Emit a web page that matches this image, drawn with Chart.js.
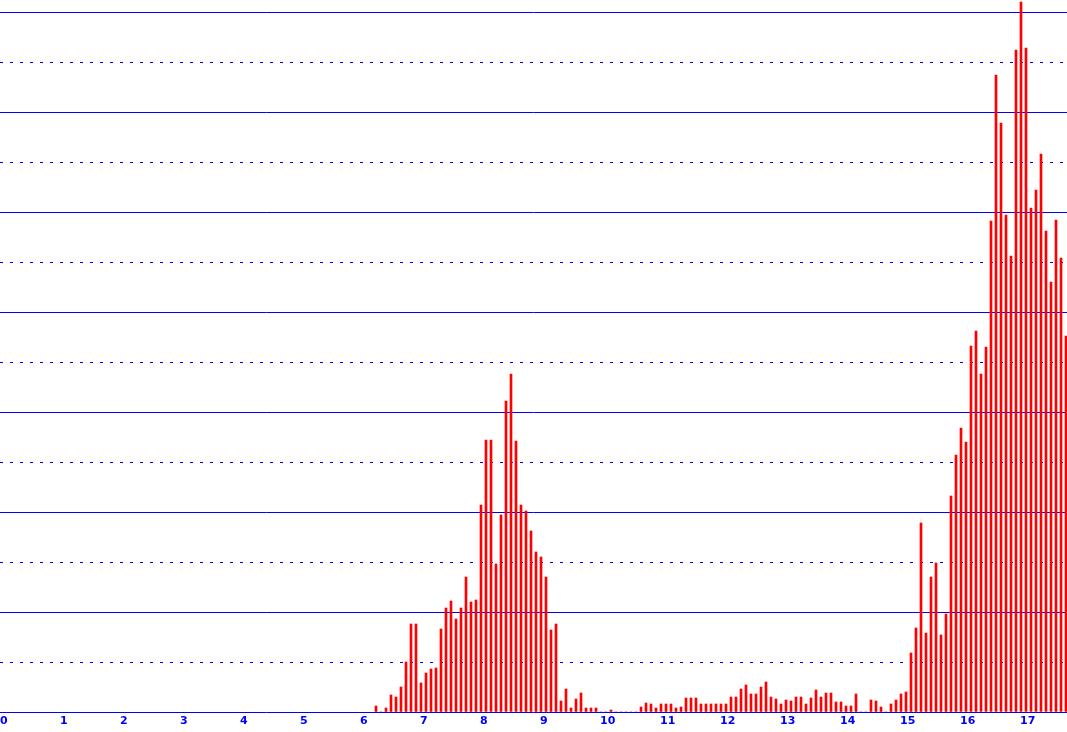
<!DOCTYPE html>
<html>
<head>
<meta charset="utf-8">
<title>chart</title>
<script src="https://cdn.jsdelivr.net/npm/chart.js@4.4.1/dist/chart.umd.min.js"></script>
<style>
  html, body { margin: 0; padding: 0; background: #ffffff; overflow: hidden; }
  canvas { display: block; }
</style>
</head>
<body>
<canvas id="chart" width="1067" height="732"></canvas>
<script>
// tick labels on the x axis (one per unit)
const tickLabels = ["0", "1", "2", "3", "4", "5", "6", "7", "8", "9", "10", "11", "12", "13", "14", "15", "16", "17"];

// 12 bins per unit, the first bin with data is bin 75 (6.25)
const binsPerUnit = 12;
const firstBin = 75;

// bar values, bin 75 .. bin 119
const valuesA = [0.6, 0, 0.4, 1.7, 1.5, 2.5, 5.0, 8.8, 8.8, 2.9,
  3.9, 4.3, 4.4, 8.3, 10.4, 11.1, 9.3, 10.4, 13.5, 11.0,
  11.2, 20.7, 27.2, 27.2, 14.8, 19.7, 31.1, 33.8, 27.1, 20.7,
  20.1, 18.1, 16.0, 15.5, 13.5, 8.2, 8.8, 1.1, 2.3, 0.4,
  1.3, 1.9, 0.4, 0.4, 0.4];
// bin 120 .. bin 175
const valuesB = [0, 0, 0.2, 0, 0, 0, 0, 0,
  0.5, 0.9, 0.8, 0.4, 0.8, 0.8, 0.8, 0.4, 0.5, 1.4, 1.4, 1.4,
  0.8, 0.8, 0.8, 0.8, 0.8, 0.8, 1.5, 1.5, 2.3, 2.7, 1.8, 1.8,
  2.5, 3.0, 1.5, 1.3, 0.8, 1.2, 1.1, 1.5, 1.5, 0.8, 1.4, 2.2,
  1.5, 1.9, 1.9, 1.0, 1.0, 0.6, 0.6, 1.8, 0, 0, 1.2, 1.1];
// bin 176 .. bin 213
const valuesC = [0.5, 0, 0.8, 1.2, 1.8, 2.0, 5.9, 8.4, 18.9, 7.9, 13.5, 14.9,
  7.7, 9.8, 21.6, 25.7, 28.4, 27.0, 36.6, 38.1, 33.8, 36.5, 49.1, 63.7,
  58.9, 49.7, 45.6, 66.2, 71.0, 66.4, 50.4, 52.2, 55.8, 48.1, 43.0, 49.2, 45.4, 37.6];

const values = valuesA.concat(valuesB, valuesC);
const points = values.map((v, i) => ({ x: (firstBin + i) / binsPerUnit, y: v }));

const blue = "#0000ff";
const node = document.getElementById("chart");

new Chart(node, {
  type: "bar",
  data: {
    datasets: [
      {
        label: "count",
        data: points,
        backgroundColor: "#ff0000",
        borderWidth: 0,
        barThickness: 2
      }
    ]
  },
  options: {
    responsive: false,
    animation: false,
    events: [],
    layout: { padding: 0 },
    plugins: {
      legend: { display: false },
      title: { display: false },
      tooltip: { enabled: false }
    },
    scales: {
      x: {
        type: "linear",
        position: "bottom",
        offset: false,
        min: -1 / 60,
        max: 1066 / 60,
        grid: { display: false, drawTicks: false, offset: false },
        border: { display: false },
        ticks: {
          stepSize: 1,
          includeBounds: false,
          autoSkip: false,
          maxRotation: 0,
          align: "start",
          labelOffset: -1,
          padding: 0,
          color: blue,
          font: { family: "DejaVu Sans", size: 11, weight: "bold", lineHeight: "17.5px" },
          callback: value => tickLabels[value]
        },
        afterFit: scale => { scale.height = 20; }
      },
      y: {
        type: "linear",
        position: "left",
        min: 0,
        max: 71.2,
        grid: { color: blue, lineWidth: 1, drawTicks: false },
        border: { display: false },
        ticks: { display: false, stepSize: 10, includeBounds: false },
        afterFit: scale => { scale.width = 0; }
      },
      yDots: {
        type: "linear",
        position: "left",
        min: 0,
        max: 71.2,
        grid: { color: blue, lineWidth: 1, drawTicks: false },
        border: { display: false, dash: [3, 7] },
        ticks: { display: false, stepSize: 5, includeBounds: false },
        afterFit: scale => { scale.width = 0; }
      }
    }
  }
});
</script>
</body>
</html>
